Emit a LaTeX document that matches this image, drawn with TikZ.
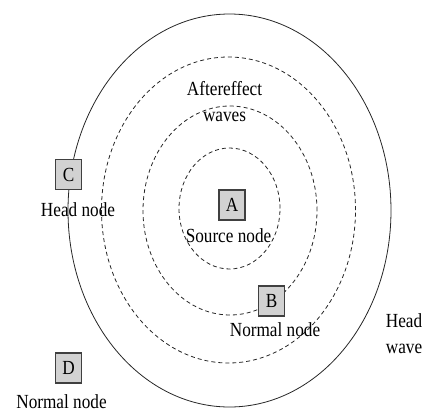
\documentclass[tikz,border=0pt]{standalone}
\usepackage{fontspec}
\setmainfont{Liberation Serif}[FakeStretch=0.86]
\usetikzlibrary{positioning}
\tikzset{
    headwave/.style = {draw=black!85, line width=0.8pt},
    afterwave/.style = {draw=black!85, line width=0.8pt, dash pattern=on 4pt off 3pt},
    mynode/.style = {rectangle, draw=black!75, line width=1.1pt, fill=gray!35, minimum width=26pt, minimum height=30pt, inner sep=0pt},
    mytext/.style = {align=center, inner sep=0pt},
    every picture/.style={font issue=\fontsize{20}{26}},
    font issue/.style={execute at begin picture={#1\selectfont}
  }
}

\begin{document}
\begin{tikzpicture}[x=1pt,y=-1pt]
\useasboundingbox (0,0) rectangle (424,413);
% waves
\draw[headwave] (229.5,210.5) ellipse [x radius=161.5pt, y radius=196.5pt];
\draw[afterwave] (228.5,210) ellipse [x radius=127pt, y radius=153pt];
\draw[afterwave] (230,210.5) ellipse [x radius=87pt, y radius=104.5pt];
\draw[afterwave] (229.5,208.5) ellipse [x radius=50.5pt, y radius=60.5pt];
%
\node[mynode] at (232,205) (a) {A};
\node[mynode] at (271.5,301) (b) {B};
\node[mynode] at (68.5,174.5) (c) {C};
\node[mynode] at (68.5,368) (d) {D};
%
\node[mytext, anchor=base] at (228.5,242) (asrc) {Source node};
\node[mytext, anchor=base] at (275,336.5) (bnorm) {Normal node};
\node[mytext, anchor=base] at (78,216) (chead) {Head node};
\node[mytext, anchor=base] at (61.5,408) (dnorm) {Normal node};
\node[mytext] at (224.5,102) (after) {Aftereffect\\waves};
\node[mytext] at (404,334) (head) {Head\\wave};
\end{tikzpicture}
\end{document}
